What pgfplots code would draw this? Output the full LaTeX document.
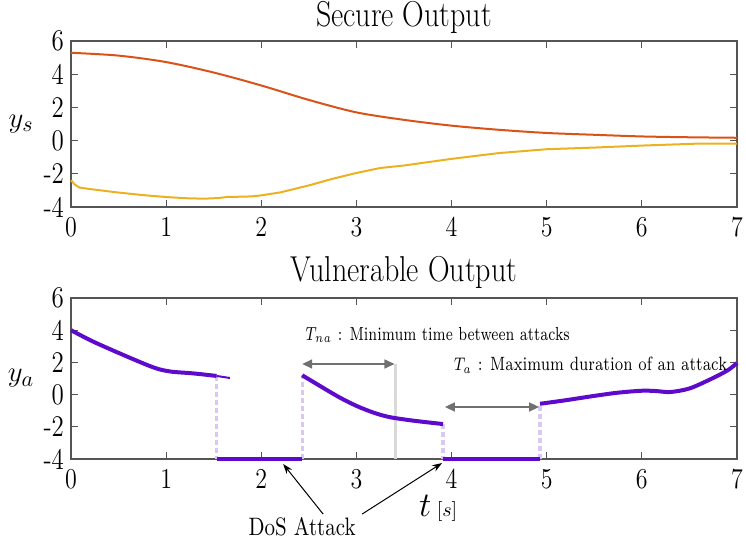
\documentclass[border=0pt]{standalone}
\usepackage{pgfplots}
\pgfplotsset{compat=1.18}
\usetikzlibrary{arrows.meta}
\definecolor{mred}{RGB}{217,83,25}
\definecolor{myel}{RGB}{237,177,32}
\definecolor{mpur}{RGB}{94,10,204}
\definecolor{lpur}{RGB}{216,200,245}
\definecolor{agray}{RGB}{85,85,85}
\definecolor{arrgray}{RGB}{112,112,112}
\definecolor{vgray}{RGB}{217,217,217}
\newcommand{\vs}[1]{\scalebox{1}[1.2]{#1}}
\pgfplotsset{
  myaxis/.style={
    scale only axis, width=333pt,
    xmin=0, xmax=7, ymin=-4, ymax=6,
    xtick={0,1,2,3,4,5,6,7},
    xticklabel={\vs{$\pgfmathprintnumber{\tick}$}},
    ytick={-4,-2,0,2,4,6}, yticklabels={\vs{-4},\vs{-2},\vs{0},\vs{2},\vs{4},\vs{6}},
    tick align=inside, major tick length=3.5pt,
    axis line style={agray, line width=0.6pt},
    tick style={agray, line width=0.5pt},
    tick label style={font=\fontsize{12.5}{13}\selectfont},
    xticklabel style={yshift=-2pt},
    ylabel style={at={(axis description cs:-0.075,0.5)}, anchor=center, rotate=-90, font=\fontsize{15}{15}\selectfont},
    title style={font=\fontsize{15}{17}\selectfont, at={(axis description cs:0.5,1)}, anchor=base},
    clip=false,
  }
}
\begin{document}
\begin{tikzpicture}
\begin{axis}[myaxis, height=83pt, at={(0pt,0pt)}, anchor=north west,
  title={\vs{Secure Output}},
  title style={yshift=1pt},
  ylabel={$y_s$}]
\addplot[mred, line width=1pt, smooth] coordinates {
(0,5.29) (0.5,5.12) (1,4.73) (1.5,4.1) (2,3.32) (2.5,2.45) (3,1.7) (3.5,1.25) (4,0.9) (4.5,0.65) (5,0.46) (5.5,0.35) (6,0.25) (6.5,0.2) (7,0.17)};
\addplot[myel, line width=1pt] coordinates {
(0,-2.39) (0.04,-2.65) (0.09,-2.83) (0.2,-2.92) (0.5,-3.13) (0.75,-3.28) (1,-3.4) (1.2,-3.47) (1.4,-3.5) (1.55,-3.46) (1.65,-3.39) (1.8,-3.38) (1.9,-3.36) (2,-3.3) (2.2,-3.12) (2.5,-2.7) (2.75,-2.3) (3,-1.95) (3.25,-1.65) (3.5,-1.5) (4,-1.1) (4.5,-0.75) (5,-0.52) (5.5,-0.42) (6,-0.3) (6.6,-0.18) (7,-0.18)};
\end{axis}
\begin{axis}[myaxis, height=80.5pt, at={(0pt,-128.5pt)}, anchor=north west,
  title={\vs{Vulnerable Output}},
  title style={yshift=2pt},
  ylabel={$y_a$}]
% dashed connectors
\addplot[lpur, line width=1.6pt, dash pattern=on 2.5pt off 1.5pt] coordinates {(1.53,1.16) (1.53,-4)};
\addplot[lpur, line width=1.6pt, dash pattern=on 2.5pt off 1.5pt] coordinates {(2.43,-4) (2.43,1.2)};
\addplot[lpur, line width=1.6pt, dash pattern=on 2.5pt off 1.5pt] coordinates {(3.91,-1.83) (3.91,-4)};
\addplot[lpur, line width=1.6pt, dash pattern=on 2.5pt off 1.5pt] coordinates {(4.93,-4) (4.93,-0.57)};
% gray marker line
\addplot[vgray, line width=1.5pt] coordinates {(3.41,-4) (3.41,1.9)};
% signal
\addplot[mpur, line width=2pt, smooth] coordinates {
(0,4.0) (0.23,3.3) (0.59,2.36) (0.88,1.66) (1.05,1.43) (1.28,1.32) (1.53,1.16)};
\addplot[mpur, line width=1pt] coordinates {(1.53,1.16) (1.67,1.03)};
\addplot[mpur, line width=2pt] coordinates {(1.53,-4) (2.43,-4)};
\addplot[mpur, line width=2pt, smooth] coordinates {
(2.43,1.2) (2.65,0.42) (2.83,-0.2) (3.0,-0.7) (3.18,-1.12) (3.35,-1.4) (3.6,-1.62) (3.91,-1.83)};
\addplot[mpur, line width=2pt] coordinates {(3.91,-4) (4.93,-4)};
\addplot[mpur, line width=2pt, smooth] coordinates {
(4.93,-0.57) (5.2,-0.35) (5.5,-0.08) (5.75,0.12) (6.0,0.24) (6.15,0.22) (6.3,0.16) (6.5,0.38) (6.72,0.95) (6.9,1.5) (7,1.96)};
% annotations
\draw[arrgray, line width=0.8pt, {Triangle[length=5pt,width=4.5pt]}-{Triangle[length=5pt,width=4.5pt]}] (axis cs:2.43,1.9) -- (axis cs:3.40,1.9);
\draw[arrgray, line width=0.8pt, {Triangle[length=5pt,width=4.5pt]}-{Triangle[length=5pt,width=4.5pt]}] (axis cs:3.93,-0.77) -- (axis cs:4.92,-0.77);
\node[anchor=west, inner sep=0pt, font=\fontsize{7.0}{8}\selectfont] at (axis cs:2.46,3.7) {\scalebox{1}[1.35]{$T_{na}$ : Minimum time between attacks}};
\node[anchor=west, inner sep=0pt, font=\fontsize{7.4}{8}\selectfont] at (axis cs:4.02,1.84) {\scalebox{1}[1.3]{$T_a$ : Maximum duration of an attack}};
\draw[black, line width=0.5pt, -{Stealth[length=5pt,width=3.5pt]}] (axis cs:2.65,-7.42) -- (axis cs:2.23,-4.31);
\draw[black, line width=0.5pt, -{Stealth[length=5pt,width=3.5pt]}] (axis cs:3.06,-7.42) -- (axis cs:3.90,-4.25);
\node[font=\fontsize{10.5}{11}\selectfont] at (axis cs:2.43,-8.22) {\vs{DoS Attack}};
\node at (axis cs:3.86,-7.04) {\fontsize{16}{16}\selectfont$t$\,{\fontsize{10}{10}\selectfont[$s$]}};
\end{axis}
\pgfresetboundingbox
\path (-35.5pt,20.5pt) rectangle (337.5pt,-249.5pt);
\end{tikzpicture}
\end{document}
